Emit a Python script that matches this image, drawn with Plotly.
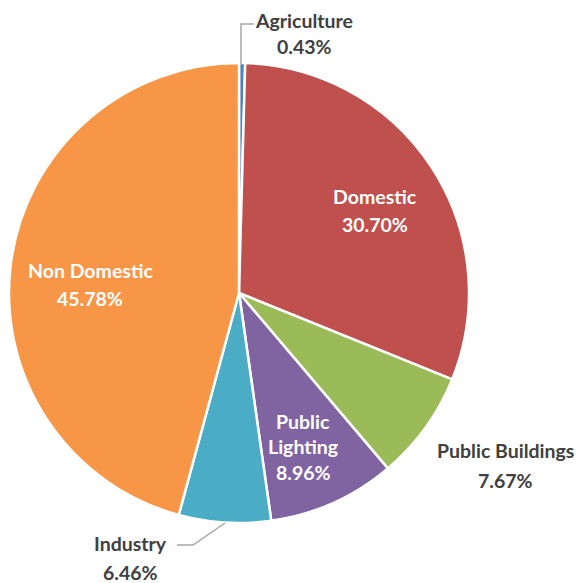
import plotly.graph_objects as go

# Electricity consumption share by sector
sectors = ["Agriculture", "Domestic", "Public Buildings", "Public Lighting", "Industry", "Non Domestic"]
shares = [0.43, 30.70, 7.67, 8.96, 6.46, 45.78]
colors = ["#4F81BD", "#C0504D", "#9BBB59", "#8064A2", "#4BACC6", "#F79646"]

W, H = 582, 583
FONT = "Lato"

fig = go.Figure(go.Pie(
    labels=sectors,
    values=shares,
    sort=False,
    direction="clockwise",
    rotation=0,
    marker=dict(colors=colors, line=dict(color="white", width=2.5)),
    textinfo="none",
    hoverinfo="label+percent",
    showlegend=False,
    domain=dict(x=[9 / W, 469 / W], y=[1 - 523 / H, 1 - 63 / H]),
))

# label layout: (lines of text, x centre, top line y, line step, colour)
label_spots = {
    "Agriculture": ([None], 304, 20, 27, "#404040"),
    "Domestic": ([None], 375, 196, 28, "white"),
    "Public Buildings": ([None], 505, 450, 30, "#404040"),
    "Public Lighting": (["Public", "Lighting"], 303, 421, 25.5, "white"),
    "Industry": ([None], 130, 543, 29, "#404040"),
    "Non Domestic": ([None], 90, 270, 28, "white"),
}

annotations = []
for name, val in zip(sectors, shares):
    parts, cx, y0, step, col = label_spots[name]
    lines = [name] if parts == [None] else parts
    lines = lines + [f"{val:.2f}%"]
    for i, t in enumerate(lines):
        annotations.append(dict(
            x=cx / W, y=1 - (y0 + i * step) / H, xref="paper", yref="paper",
            text=f"<b>{t}</b>", showarrow=False, xanchor="center", yanchor="middle",
            font=dict(family=FONT, size=19.5, color=col),
        ))

# leader lines for the small outside labels
leader = dict(color="#A6A6A6", width=1.5)
shapes = [
    dict(type="path", xref="paper", yref="paper",
         path=f"M {241/W},{1-64/H} L {241/W},{1-24/H} L {254/W},{1-24/H}",
         line=leader),
    dict(type="path", xref="paper", yref="paper",
         path=f"M {225/W},{1-523/H} L {193/W},{1-545/H} L {177/W},{1-545/H}",
         line=leader),
]

fig.update_layout(
    width=W, height=H,
    margin=dict(l=0, r=0, t=0, b=0),
    paper_bgcolor="white",
    plot_bgcolor="white",
    annotations=annotations,
    shapes=shapes,
)

fig.write_html("out.html")
